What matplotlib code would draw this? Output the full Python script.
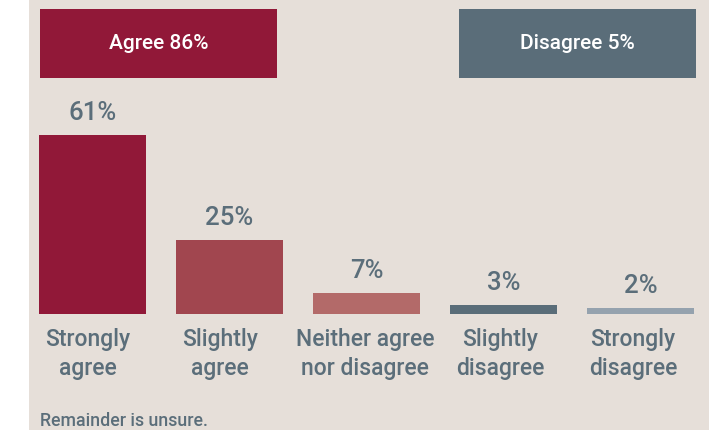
import matplotlib
matplotlib.use("Agg")
import matplotlib.pyplot as plt
from matplotlib.patches import Rectangle
from matplotlib import font_manager

categories = ["Strongly\nagree", "Slightly\nagree", "Neither agree\nnor disagree",
              "Slightly\ndisagree", "Strongly\ndisagree"]
values = [61, 25, 7, 3, 2]
value_labels = ["61%", "25%", "7%", "3%", "2%"]
bar_colors = ["#911838", "#A1464F", "#B36A69", "#5A6D79", "#95A2AE"]
agree_label = "Agree 86%"
disagree_label = "Disagree 5%"
footnote = "Remainder is unsure."
label_dx_pt = [-3.6, -6.8, -1.1, -2.5, -5.4]  # small horizontal nudges of category labels

names = {f.name for f in font_manager.fontManager.ttflist}
fam = [f for f in ["Liberation Sans Narrow", "Roboto", "DejaVu Sans"] if f in names]
plt.rcParams["font.family"] = fam
WEIGHT = "medium"

BG = "#E6DFD9"
TXT = "#5B6E7A"
W, H = 712, 430
fig = plt.figure(figsize=(W / 100, H / 100), dpi=100, facecolor="white")

ax = fig.add_axes([29 / W, 0, 680 / W, 1])
ax.set_facecolor(BG)
for s in ax.spines.values():
    s.set_visible(False)
ax.set_xticks([])
ax.set_yticks([])
ax.set_xlim(-0.4635, 4.5)
ax.set_ylim(-39.7, 107.1)

x = list(range(len(values)))
ax.bar(x, values, width=107 / 137, color=bar_colors, align="center")

for i, (v, lab) in enumerate(zip(values, value_labels)):
    ax.annotate(lab, xy=(i, v), xytext=(0, 16), textcoords="offset points",
                ha="center", va="center", fontsize=18.5, color=TXT, fontweight=WEIGHT)
    ax.annotate(categories[i], xy=(i, 0), xytext=(label_dx_pt[i], -29),
                textcoords="offset points", ha="center", va="center", fontsize=16.5,
                color=TXT, linespacing=1.33, fontweight=WEIGHT)

# header boxes
def box(x0, x1, y0, y1, color, text):
    fig.patches.append(Rectangle((x0 / W, 1 - y1 / H), (x1 - x0) / W, (y1 - y0) / H,
                                 transform=fig.transFigure, facecolor=color,
                                 edgecolor="none", zorder=3))
    fig.text((x0 + x1) / 2 / W, 1 - (y0 + y1) / 2 / H, text, ha="center", va="center",
             color="white", fontsize=15, zorder=4, fontweight=WEIGHT)

box(40, 277, 9, 78, bar_colors[0], agree_label)
box(459, 696, 9, 78, bar_colors[3], disagree_label)

fig.text(40 / W, 1 - 421 / H, footnote, ha="left", va="center", color=TXT, fontsize=12.8,
         fontweight=WEIGHT)

fig.savefig("out.png", dpi=100, facecolor="white")
